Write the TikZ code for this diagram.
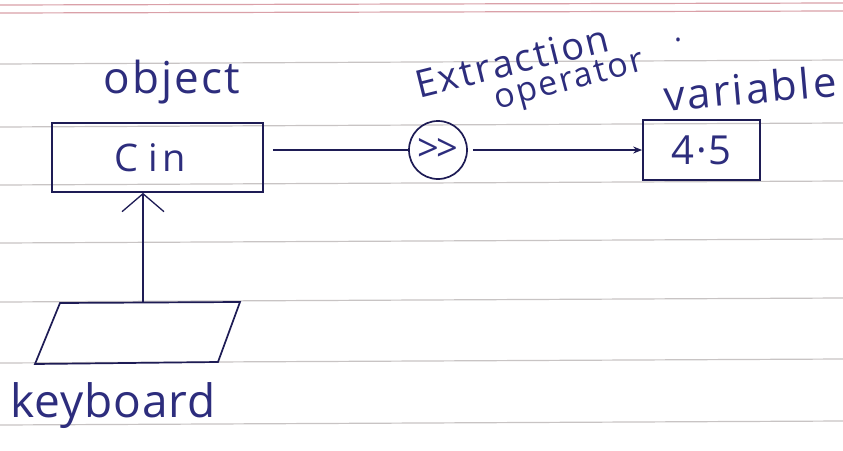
\documentclass[tikz,border=0pt]{standalone}
\usepackage{fontspec}
\setmainfont{Open Sans}
\usetikzlibrary{arrows.meta}
\definecolor{ink}{RGB}{30,28,85}
\definecolor{pen}{RGB}{45,45,125}
\definecolor{ruleline}{RGB}{200,196,196}
\definecolor{marginred}{RGB}{218,160,168}
\newcommand{\hw}[2]{\fontsize{#1}{#1}\selectfont\addfontfeature{LetterSpace=#2}}
\begin{document}
\begin{tikzpicture}[x=1pt,y=-1pt,
  hand/.style={text=pen,inner sep=0pt},
  boxed/.style={draw=ink,line width=1.7pt,inner sep=0pt,text=pen},
  wire/.style={draw=ink,line width=1.3pt}]
\useasboundingbox (0,0) rectangle (843,450);
\fill[white] (0,0) rectangle (843,450);
% ruled paper
\draw[marginred,line width=1.2pt] (0,5) -- (843,3);
\draw[marginred,line width=1.2pt] (0,13) -- (843,11);
\foreach \y in {64,127,185,243,302,363,425}
  \draw[ruleline,line width=1.2pt] (0,\y) -- (843,\y-4);
% boxes
\node[boxed,minimum width=211pt,minimum height=69pt,text width=205pt,align=center,font={\hw{38}{12}}] (cin) at (157.5,157.5) {\hspace*{-14pt}C\hspace{10pt}in};
\node[boxed,circle,minimum size=58pt,font={\hw{38}{0}}] (op) at (438,150) {\textgreater\kern-3pt\textgreater};
\node[boxed,minimum width=117pt,minimum height=60pt,font={\hw{40}{5}}] (var) at (701.5,150) {4·5};
% keyboard
\draw[ink,line width=1.7pt] (60,303) coordinate (kbtl) -- (240,302) coordinate (kbtr) -- (218,362) coordinate (kbbr) -- (35,364) coordinate (kbbl) -- cycle;
\coordinate (kbtop) at (143,302);
% connectors
\draw[wire,-{Straight Barb[length=18pt,width=42pt]}] (kbtop) -- (kbtop |- cin.south);
\draw[wire,shorten <=9pt] (cin.east |- op.west) -- (op.west);
\draw[wire,-{Stealth[length=9pt,width=7pt]},shorten <=5pt] (op.east) -- (var.west);
% labels
\node[hand,font={\hw{44}{5}}] (lobj) at (172,82) {object};
\node[hand,font={\hw{42}{6}},rotate=5] (lvar) at (750,88) {variable};
\node[hand,font={\hw{38}{6}},rotate=14] (lext) at (512,61) {Extraction};
\node[hand,font={\hw{34}{6}},rotate=15] (lopr) at (570,83) {operator};
\node[hand,font={\hw{30}{0}}] (ldot) at (678,40) {.};
\node[hand,font={\hw{46}{2}}] (lkb) at (113,406) {keyboard};
\end{tikzpicture}
\end{document}
